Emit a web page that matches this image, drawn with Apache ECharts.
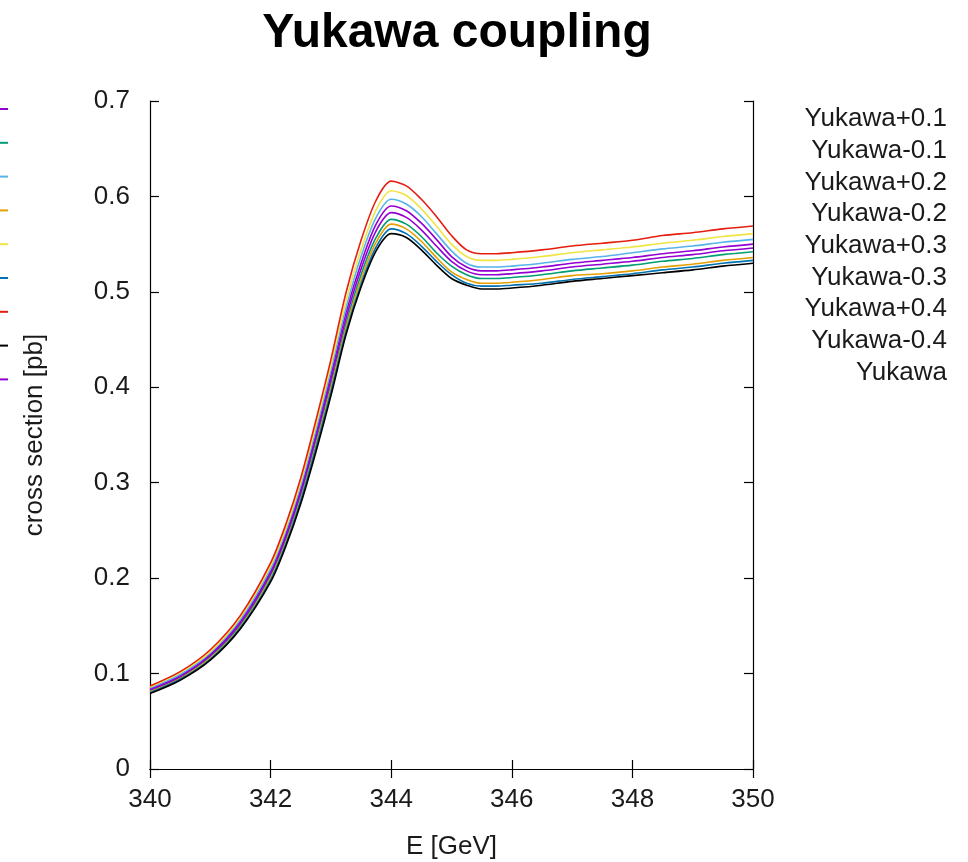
<!DOCTYPE html>
<html>
<head>
<meta charset="utf-8">
<script src="https://cdn.jsdelivr.net/npm/echarts@6/dist/echarts.min.js"></script>
<style>
  html, body { margin: 0; padding: 0; background: #fff; }
  #chart { width: 968px; height: 862px; }
</style>
</head>
<body>
<div id="chart"></div>
<script>
// Collision energy grid [GeV]
const energies = [340, 340.5, 341, 341.5, 342, 342.25, 342.5, 342.75, 343, 343.25, 343.5, 343.75,
  344, 344.25, 344.5, 344.75, 345, 345.25, 345.5, 345.75, 346, 346.5, 347, 347.5, 348, 348.5, 349, 349.5, 350];

// Cross sections [pb] for each Yukawa variation
const yukawaP01 = [0.084, 0.098, 0.120, 0.155, 0.207, 0.246, 0.293, 0.351, 0.413, 0.478, 0.530, 0.571,
  0.590, 0.585, 0.572, 0.555, 0.537, 0.526, 0.522, 0.522, 0.523, 0.526, 0.530, 0.533, 0.536, 0.540, 0.543, 0.547, 0.550];
const yukawaM01 = [0.082, 0.096, 0.118, 0.151, 0.203, 0.240, 0.287, 0.343, 0.403, 0.466, 0.518, 0.557,
  0.576, 0.571, 0.558, 0.541, 0.527, 0.518, 0.514, 0.514, 0.515, 0.518, 0.522, 0.525, 0.528, 0.532, 0.535, 0.539, 0.542];
const yukawaP02 = [0.085, 0.099, 0.122, 0.157, 0.210, 0.249, 0.297, 0.355, 0.418, 0.483, 0.537, 0.578,
  0.597, 0.592, 0.579, 0.561, 0.543, 0.530, 0.526, 0.526, 0.527, 0.530, 0.534, 0.537, 0.541, 0.545, 0.548, 0.552, 0.555];
const yukawaM02 = [0.081, 0.095, 0.116, 0.149, 0.200, 0.237, 0.283, 0.339, 0.399, 0.462, 0.513, 0.552,
  0.571, 0.566, 0.553, 0.536, 0.521, 0.513, 0.509, 0.509, 0.510, 0.513, 0.517, 0.519, 0.522, 0.526, 0.529, 0.533, 0.536];
const yukawaP03 = [0.086, 0.101, 0.123, 0.159, 0.213, 0.252, 0.301, 0.360, 0.423, 0.490, 0.544, 0.586,
  0.606, 0.601, 0.587, 0.569, 0.550, 0.537, 0.533, 0.533, 0.534, 0.537, 0.541, 0.544, 0.547, 0.551, 0.554, 0.558, 0.561];
const yukawaM03 = [0.080, 0.094, 0.115, 0.148, 0.198, 0.235, 0.281, 0.336, 0.395, 0.458, 0.508, 0.547,
  0.566, 0.561, 0.548, 0.532, 0.518, 0.509, 0.506, 0.506, 0.507, 0.509, 0.513, 0.516, 0.519, 0.523, 0.526, 0.530, 0.533];
const yukawaP04 = [0.087, 0.102, 0.125, 0.161, 0.216, 0.256, 0.305, 0.365, 0.429, 0.499, 0.554, 0.596,
  0.616, 0.611, 0.597, 0.579, 0.559, 0.544, 0.540, 0.540, 0.541, 0.544, 0.548, 0.551, 0.554, 0.559, 0.562, 0.566, 0.569];
const yukawaM04 = [0.079, 0.093, 0.114, 0.147, 0.196, 0.233, 0.278, 0.332, 0.391, 0.455, 0.505, 0.543,
  0.561, 0.557, 0.544, 0.528, 0.514, 0.507, 0.503, 0.503, 0.504, 0.507, 0.511, 0.514, 0.517, 0.520, 0.523, 0.527, 0.530];
const yukawaNominal = [0.083, 0.097, 0.119, 0.153, 0.205, 0.243, 0.290, 0.347, 0.408, 0.472, 0.524, 0.564,
  0.583, 0.578, 0.565, 0.548, 0.532, 0.522, 0.518, 0.518, 0.519, 0.522, 0.526, 0.529, 0.532, 0.536, 0.539, 0.543, 0.546];

const seriesNames = ['Yukawa+0.1', 'Yukawa-0.1', 'Yukawa+0.2', 'Yukawa-0.2', 'Yukawa+0.3',
  'Yukawa-0.3', 'Yukawa+0.4', 'Yukawa-0.4', 'Yukawa'];
const seriesValues = [yukawaP01, yukawaM01, yukawaP02, yukawaM02, yukawaP03,
  yukawaM03, yukawaP04, yukawaM04, yukawaNominal];
const lineColors = ['#9400d3', '#009e73', '#56b4e9', '#e69f00', '#f0e442',
  '#0072b2', '#e51e10', '#000000', '#9400d3'];

const FONT = 'Liberation Sans, Arial, sans-serif';
const TEXT = '#1a1a1a';

const chart = echarts.init(document.getElementById('chart'), null, { renderer: 'canvas' });

const series = seriesNames.map((name, i) => ({
  name: name,
  type: 'line',
  data: energies.map((e, j) => [e, seriesValues[i][j]]),
  smooth: 0.3,
  showSymbol: false,
  symbol: 'none',
  lineStyle: { color: lineColors[i], width: 1.6 },
  itemStyle: { color: lineColors[i] },
  emphasis: { disabled: true },
  z: 2
}));

const axisLineStyle = { show: true, lineStyle: { color: '#000', width: 1.2 } };
const tickStyle = { show: true, inside: true, length: 9, lineStyle: { color: '#000', width: 1.2 } };

chart.setOption({
  backgroundColor: '#fff',
  animation: false,
  title: {
    text: 'Yukawa coupling',
    left: 452,
    top: 5,
    textAlign: 'center',
    textStyle: { fontFamily: FONT, fontSize: 48, fontWeight: 'bold', color: '#000' }
  },
  legend: [
    {
      // coloured keys, stacked down the left edge
      data: seriesNames,
      orient: 'vertical',
      left: 0,
      top: 108,
      icon: 'rect',
      itemWidth: 8,
      itemHeight: 2,
      itemGap: 31.8,
      formatter: () => '',
      textStyle: { fontSize: 1 },
      selectedMode: false,
      padding: 0
    },
    {
      // right-aligned names beside the plot
      data: seriesNames,
      orient: 'vertical',
      right: 16,
      top: 106,
      align: 'right',
      icon: 'rect',
      itemWidth: 0,
      itemHeight: 0,
      itemGap: 5.7,
      selectedMode: false,
      padding: 0,
      textStyle: { fontFamily: FONT, fontSize: 26, color: TEXT, lineHeight: 26 }
    }
  ],
  grid: { left: 150, right: 215, top: 101, bottom: 93, containLabel: false, outerBoundsMode: 'none' },
  xAxis: [
    {
      type: 'value',
      min: 340, max: 350, interval: 2,
      position: 'bottom',
      name: 'E [GeV]',
      nameLocation: 'middle',
      nameGap: 65,
      nameTextStyle: { fontFamily: FONT, fontSize: 26, color: TEXT },
      axisLine: axisLineStyle,
      axisTick: tickStyle,
      axisLabel: { fontFamily: FONT, fontSize: 26, color: TEXT, margin: 18 },
      splitLine: { show: false }
    },
    {
      type: 'value',
      min: 340, max: 350, interval: 2,
      position: 'top',
      axisLine: axisLineStyle,
      axisTick: tickStyle,
      axisLabel: { show: false },
      splitLine: { show: false }
    }
  ],
  yAxis: [
    {
      type: 'value',
      min: 0, max: 0.7, interval: 0.1,
      position: 'left',
      name: 'cross section [pb]',
      nameLocation: 'middle',
      nameGap: 102,
      nameTextStyle: { fontFamily: FONT, fontSize: 26, color: TEXT },
      axisLine: axisLineStyle,
      axisTick: tickStyle,
      axisLabel: { fontFamily: FONT, fontSize: 26, color: TEXT, margin: 20,
        formatter: v => String(Math.round(v * 10) / 10) },
      splitLine: { show: false }
    },
    {
      type: 'value',
      min: 0, max: 0.7, interval: 0.1,
      position: 'right',
      axisLine: axisLineStyle,
      axisTick: tickStyle,
      axisLabel: { show: false },
      splitLine: { show: false }
    }
  ],
  series: series
});
</script>
</body>
</html>
